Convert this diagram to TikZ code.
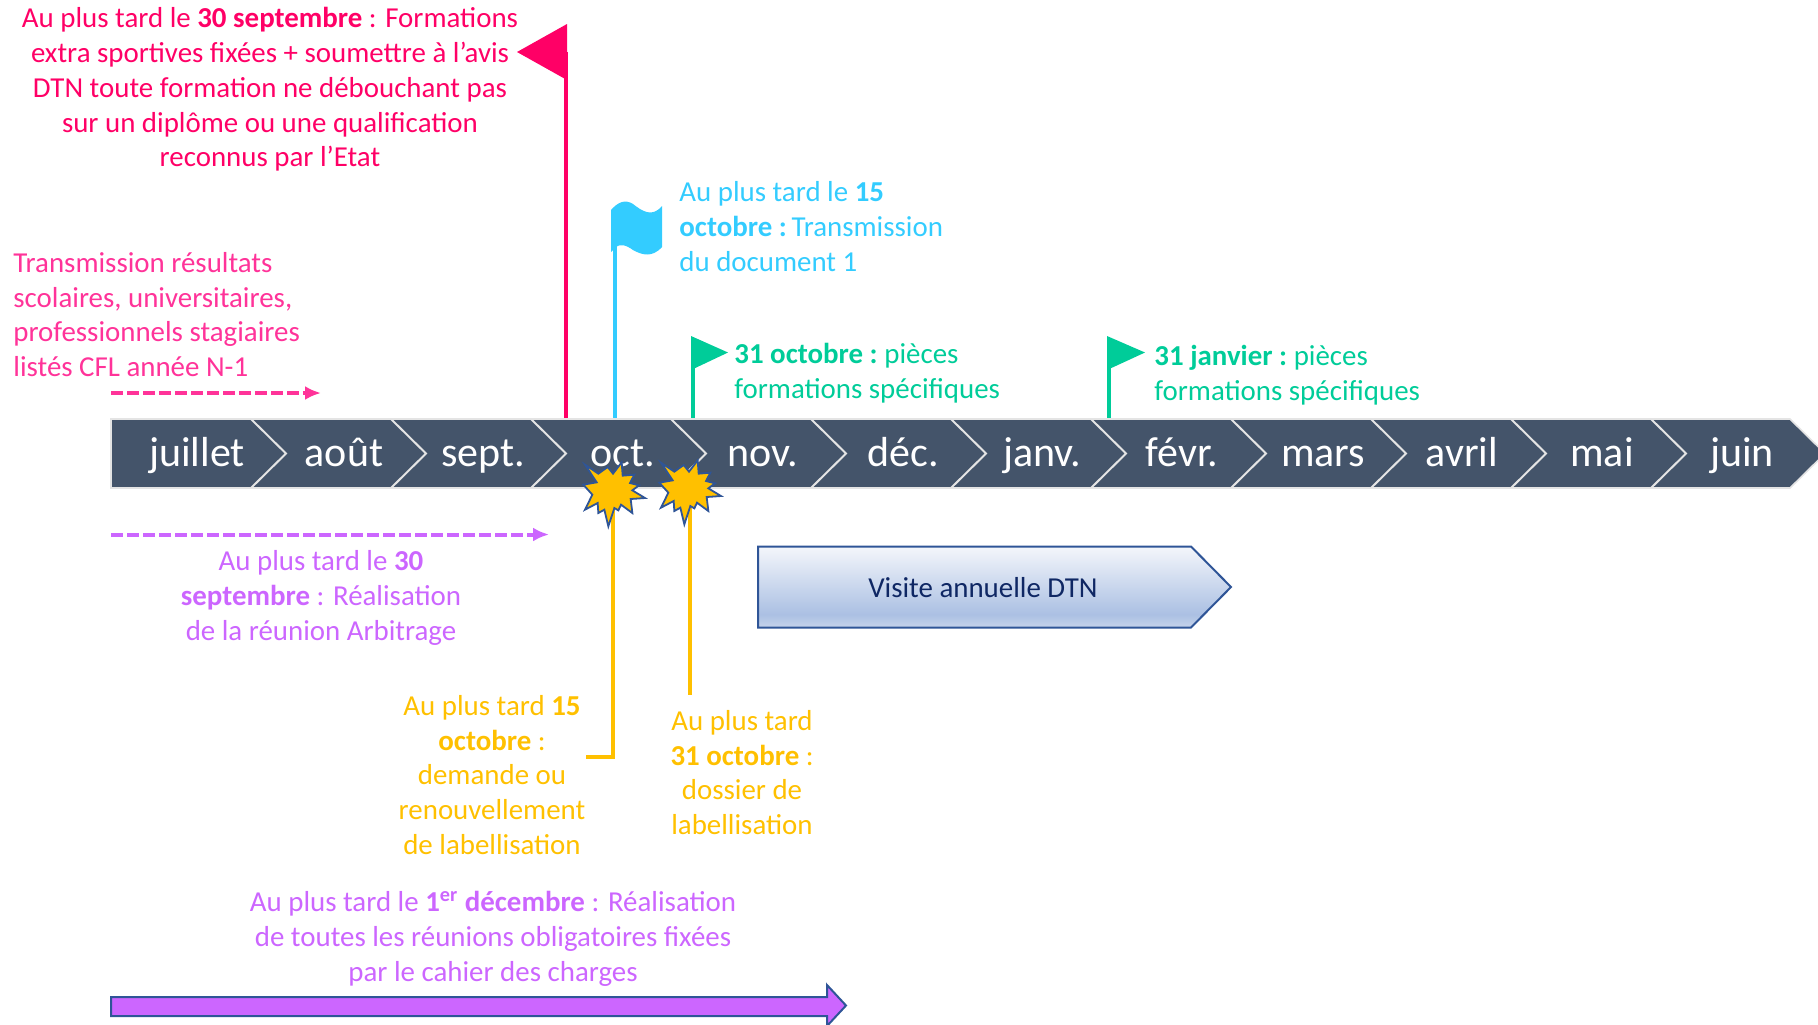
\documentclass[tikz,border=0pt]{standalone}
\usepackage{fontspec}
\setmainfont{Carlito}
\definecolor{cred}{HTML}{FF0066}
\definecolor{cblue}{HTML}{33CCFF}
\definecolor{cgreen}{HTML}{00CC99}
\definecolor{cpink}{HTML}{FF3399}
\definecolor{cviolet}{HTML}{CC66FF}
\definecolor{corange}{HTML}{FFC000}
\definecolor{cband}{HTML}{44546A}
\definecolor{cedge}{HTML}{E4E4E4}
\definecolor{cnavy}{HTML}{2F5597}
\definecolor{cvisA}{HTML}{C6D3EA}
\definecolor{cvisB}{HTML}{ABC0E3}
\definecolor{cvisC}{HTML}{F4F6FB}
\definecolor{cvisT}{HTML}{0F2764}
\pgfdeclareverticalshading{visitshade}{100bp}{color(0bp)=(cvisA); color(25bp)=(cvisA); color(33bp)=(cvisB); color(75bp)=(cvisC); color(100bp)=(cvisC)}
\newcommand{\burstpath}{(98,42)--(114,62)--(140,28)--(143,68)--(178,65)--(165,90)--(192,97)--(172,112)--(210,135)--(167,138)--(172,180)--(138,155)--(130,172)--(118,165)--(100,220)--(88,170)--(70,180)--(68,150)--(30,170)--(52,125)--(25,95)--(65,88)--(30,35)--(70,62)--cycle}
\usetikzlibrary{arrows.meta}
\tikzset{
  x=0.5pt,y=-0.5pt,
  note/.style={inner sep=0pt,font=\fontsize{14.45}{17.4}\selectfont},
  month/.style={inner sep=0pt,anchor=base,text=white,font=\fontsize{21}{24}\selectfont},
  pole/.style={line width=2pt},
  septick/.style={draw=cedge,line width=1pt},
  burst/.style={fill=corange,draw=cnavy,line width=0.9pt,line join=miter},
  feed/.style={draw=corange,line width=2pt},
  dasharrow/.style={line width=2pt,dash pattern=on 6pt off 2pt,-{Latex[length=8pt,width=7pt]}}
}
\begin{document}
\begin{tikzpicture}
\clip (0,0) rectangle (1818,1024);
% anchors on the band
\coordinate (redfoot) at (565.5,419);
\coordinate (redtop) at (565.5,52);
\coordinate (bluefoot) at (615,419);
\coordinate (bluetop) at (615,240);
\coordinate (greenfootA) at (692.5,419);
\coordinate (greentopA) at (692.5,360);
\coordinate (greenfootB) at (1108.5,419);
\coordinate (greentopB) at (1108.5,360);
\coordinate (burstA) at (613,500);
\coordinate (burstB) at (689.5,500);
\coordinate (feedAend) at (613,756.5);
\coordinate (feedAfree) at (586,756.5);
\coordinate (feedBend) at (689.5,695);
% poles
\draw[pole,cred] (redfoot)--(redtop);
\draw[pole,cblue,line width=1.8pt] (bluefoot)--(bluetop);
\draw[pole,cgreen] (greenfootA)--(greentopA);
\draw[pole,cgreen] (greenfootB)--(greentopB);
% flags
\fill[cred] (517,52)--(567,24)--(567,80)--cycle;
\fill[cblue] (611,210) .. controls (618,202) and (625,199) .. (633,204) .. controls (642,211) and (652,218) .. (662,206) -- (662,247) .. controls (652,258) and (642,255) .. (633,250) .. controls (626,245) and (620,243) .. (615,248) -- (611,252) -- cycle;
\fill[cgreen] (691,336)--(728,352.5)--(691,370)--cycle;
\fill[cgreen] (1107,336)--(1145,352.5)--(1107,370)--cycle;
% band
\fill[cband,draw=cedge,line width=0.8pt] (111,419)--(1790,419)--(1825,453.5)--(1790,488)--(111,488)--cycle;
\foreach \k in {0,...,10}{
  \draw[septick] ({251+140*\k},419)--({286+140*\k},453.5)--({251+140*\k},488);
}
\node[month] (m1) at (197,466) {juillet};
\node[month] (m2) at (344,466) {août};
\node[month] (m3) at (483,466) {sept.};
\node[month] (m4) at (623,466) {oct.};
\node[month] (m5) at (763,466) {nov.};
\node[month] (m6) at (903,466) {déc.};
\node[month] (m7) at (1042,466) {janv.};
\node[month] (m8) at (1182,466) {févr.};
\node[month] (m9) at (1323,466) {mars};
\node[month] (m10) at (1462,466) {avril};
\node[month] (m11) at (1602,466) {mai};
\node[month] (m12) at (1742,466) {juin};
% orange feeds and bursts
\draw[feed,line join=miter] (burstA)--(feedAend)--(feedAfree);
\draw[feed] (burstB)--(feedBend);
\begin{scope}[shift={(575,453)},x=0.1667pt,y=-0.1667pt]
  \filldraw[burst] \burstpath;
\end{scope}
\begin{scope}[shift={(651,451)},x=0.1667pt,y=-0.1667pt]
  \filldraw[burst] \burstpath;
\end{scope}
% dashed arrows
\coordinate (pinkA) at (111,393);
\coordinate (pinkB) at (321,393);
\coordinate (violA) at (111,534.5);
\coordinate (violB) at (549,534.5);
\draw[dasharrow,cpink] (pinkA)--(pinkB);
\draw[dasharrow,cviolet] (violA)--(violB);
% visit arrow
\shade[shading=visitshade] (758,546.5)--(1191,546.5)--(1231,587)--(1191,627.5)--(758,627.5)--cycle;
\draw[cnavy,line width=1pt] (758,546.5)--(1191,546.5)--(1231,587)--(1191,627.5)--(758,627.5)--cycle;
\node[note,text=cvisT] (visit) at (983,588) {Visite annuelle DTN};
% purple arrow
\filldraw[fill=cviolet,draw=cnavy,line width=1pt] (111,997)--(827,997)--(827,985)--(846,1005.5)--(827,1026)--(827,1016)--(111,1016)--cycle;
% texts
\node[note,cred,align=center] (tRed) at (270,89.5) {Au plus tard le \textbf{30 septembre} : Formations\\extra sportives fixées + soumettre à l’avis\\DTN toute formation ne débouchant pas\\sur un diplôme ou une qualification\\reconnus par l’Etat};
\node[note,cblue,align=left,anchor=west] (tBlue) at (679,226.5) {Au plus tard le \textbf{15}\\\textbf{octobre :}\hspace{-2pt} Transmission\\du document 1};
\node[note,cpink,align=left,anchor=west] (tPink) at (13,314.5) {Transmission résultats\\scolaires, universitaires,\\professionnels stagiaires\\listés CFL année N-1};
\node[note,cgreen,align=left,anchor=west] (tGreenA) at (734,373) {\textbf{31 octobre :}\hspace{-1pt} pièces\\formations spécifiques};
\node[note,cgreen,align=left,anchor=west] (tGreenB) at (1154,375) {\textbf{31 janvier :}\hspace{-1pt} pièces\\formations spécifiques};
\node[note,cviolet,align=center] (tViolA) at (321,598) {Au plus tard le \textbf{30}\\\textbf{septembre} : Réalisation\\de la réunion Arbitrage};
\node[note,corange,align=center] (tOrA) at (492,775) {Au plus tard \textbf{15}\\\textbf{octobre} :\\demande ou\\renouvellement\\de labellisation};
\node[note,corange,align=center] (tOrB) at (742,772.5) {Au plus tard\\\textbf{31 octobre} :\\dossier de\\labellisation};
\node[note,cviolet,align=center] (tViolB) at (493,938.5) {Au plus tard le \textbf{1\textsuperscript{er} décembre} : Réalisation\\de toutes les réunions obligatoires fixées\\par le cahier des charges};
\end{tikzpicture}
\end{document}
